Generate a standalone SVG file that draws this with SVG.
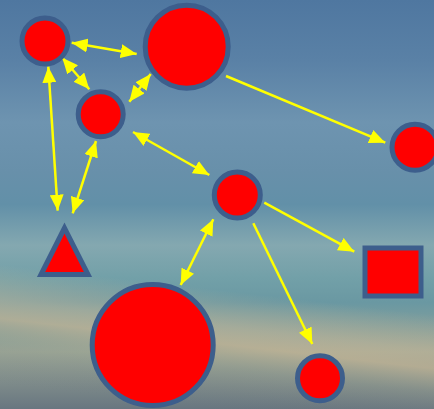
<svg xmlns="http://www.w3.org/2000/svg" width="434" height="409" viewBox="0 0 434 409">
  <defs>
    <!-- sky backdrop -->
    <linearGradient id="sky" x1="0" y1="0" x2="0" y2="409" gradientUnits="userSpaceOnUse">
      <stop offset="0" stop-color="#4f77a0"/>
      <stop offset="0.15" stop-color="#5a81a6"/>
      <stop offset="0.3" stop-color="#6e94b0"/>
      <stop offset="0.42" stop-color="#6890aa"/>
      <stop offset="0.5" stop-color="#6290a8"/>
      <stop offset="0.6" stop-color="#84a8b0"/>
      <stop offset="0.68" stop-color="#72a0a8"/>
      <stop offset="0.74" stop-color="#6a98a2"/>
      <stop offset="0.86" stop-color="#98a496"/>
      <stop offset="1" stop-color="#687680"/>
    </linearGradient>
    <!-- warm haze band sloping down to the right -->
    <linearGradient id="band" x1="0" y1="290" x2="0" y2="409" gradientUnits="userSpaceOnUse" gradientTransform="rotate(6.6 217 344)">
      <stop offset="0" stop-color="#c8b898" stop-opacity="0"/>
      <stop offset="0.3" stop-color="#c8b898" stop-opacity="0.5"/>
      <stop offset="0.45" stop-color="#c4b494" stop-opacity="0.7"/>
      <stop offset="0.65" stop-color="#a0a490" stop-opacity="0.3"/>
      <stop offset="1" stop-color="#707880" stop-opacity="0"/>
    </linearGradient>
    <marker id="head" viewBox="0 0 16 14" refX="16" refY="7" markerWidth="16" markerHeight="14" markerUnits="userSpaceOnUse" orient="auto-start-reverse">
      <path d="M0,0 L16,7 L0,14 z" fill="#ffff00"/>
    </marker>
    <style>
      .node { fill: #ff0000; stroke: #3d5e8c; stroke-width: 5; stroke-linejoin: miter; }
      .edge { stroke: #ffff00; stroke-width: 2.5; fill: none; marker-end: url(#head); }
      .both { marker-start: url(#head); }
    </style>
  </defs>

  <rect x="0" y="0" width="434" height="409" fill="url(#sky)"/>
  <rect x="0" y="0" width="434" height="409" fill="url(#band)"/>

  <g id="connectors">
    <line class="edge both" x1="71.7" y1="42.7" x2="136.7" y2="54"/>
    <line class="edge both" x1="62.3" y1="57.7" x2="89.3" y2="89.3"/>
    <line class="edge both" x1="150.7" y1="74" x2="129.3" y2="101.7"/>
    <line class="edge both" x1="48.3" y1="66.7" x2="57.7" y2="210.7"/>
    <line class="edge both" x1="96" y1="141" x2="72.7" y2="213.3"/>
    <line class="edge both" x1="133" y1="132" x2="209.3" y2="175"/>
    <line class="edge" x1="226" y1="76" x2="385.3" y2="142.7"/>
    <line class="edge" x1="264.3" y1="202.7" x2="354.3" y2="251.7"/>
    <line class="edge" x1="253.3" y1="223.3" x2="312.3" y2="344"/>
    <line class="edge both" x1="213.3" y1="219.3" x2="180.7" y2="285"/>
  </g>

  <g id="node-a"><circle class="node" cx="45" cy="41" r="23"/></g>
  <g id="node-b"><circle class="node" cx="186.7" cy="46.7" r="41.5"/></g>
  <g id="node-c"><circle class="node" cx="100.7" cy="114.3" r="22.5"/></g>
  <g id="node-d"><circle class="node" cx="415" cy="147.3" r="23"/></g>
  <g id="node-e"><circle class="node" cx="237.3" cy="195" r="23"/></g>
  <g id="node-triangle"><polygon class="node" points="64.5,228 41,274.5 88,274.5"/></g>
  <g id="node-square"><rect class="node" x="365" y="248" width="56" height="48"/></g>
  <g id="node-big"><circle class="node" cx="152.7" cy="345" r="60.5"/></g>
  <g id="node-small"><circle class="node" cx="320" cy="378.3" r="22.5"/></g>
</svg>
